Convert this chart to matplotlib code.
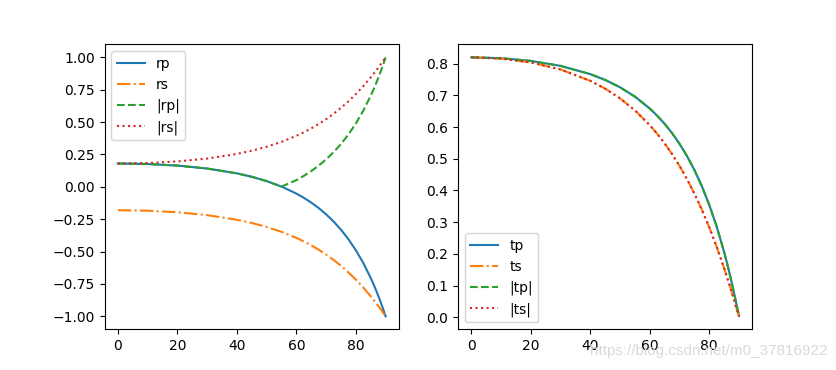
import numpy as np
import matplotlib
matplotlib.use("Agg")
import matplotlib.pyplot as plt

# Ángulo de incidencia (grados) y coeficientes
angulo = [0, 10, 20, 30, 40, 45, 50, 55, 60, 62.5, 65, 67.5, 70, 72.5, 75, 77.5,
          80, 82.5, 85, 86, 87, 88, 89, 90]

rp = [0.1803, 0.1765, 0.1642, 0.1416, 0.1042, 0.0779, 0.0445, 0.0021, -0.0520,
      -0.0846, -0.1216, -0.1639, -0.2121, -0.2675, -0.3311, -0.4045,
      -0.4895, -0.5884, -0.7039, -0.7555, -0.8106, -0.8695, -0.9325, -1.0]
rs = [-0.1803, -0.1842, -0.1963, -0.2185, -0.2543, -0.2790, -0.3096, -0.3474, -0.3941,
      -0.4214, -0.4517, -0.4854, -0.5227, -0.5641, -0.6099, -0.6605,
      -0.7163, -0.7778, -0.8453, -0.8741, -0.9040, -0.9349, -0.9669, -1.0]
tp = [0.8197, 0.8170, 0.8085, 0.7928, 0.7668, 0.7485, 0.7253, 0.6959, 0.6584,
      0.6357, 0.6100, 0.5807, 0.5471, 0.5087, 0.4645, 0.4136,
      0.3545, 0.2859, 0.2057, 0.1698, 0.1315, 0.0906, 0.0469, 0.004]
ts = [0.8197, 0.8158, 0.8037, 0.7815, 0.7457, 0.7210, 0.6904, 0.6526, 0.6059,
      0.5786, 0.5483, 0.5146, 0.4773, 0.4359, 0.3901, 0.3395,
      0.2837, 0.2222, 0.1547, 0.1259, 0.0961, 0.0651, 0.0331, 0.003]

fig, (ax1, ax2) = plt.subplots(1, 2, figsize=(8.36, 3.7), dpi=100)

# Reflexión
ax1.plot(angulo, rp, "-", label="rp")
ax1.plot(angulo, rs, "-.", label="rs")
ax1.plot(angulo, np.abs(rp), "--", label="|rp|")
ax1.plot(angulo, np.abs(rs), ":", label="|rs|")
ax1.legend(loc="upper left")

# Transmisión
ax2.plot(angulo, tp, "-", label="tp")
ax2.plot(angulo, ts, "-.", label="ts")
ax2.plot(angulo, np.abs(tp), "--", label="|tp|")
ax2.plot(angulo, np.abs(ts), ":", label="|ts|")
ax2.set_yticks(np.arange(0, 0.81, 0.1))
ax2.legend(loc="lower left")

# Marca de agua del original
fig.text(0.99, 0.04, "https://blog.csdn.net/m0_37816922", ha="right",
         fontsize=11, color="#d9d9d9", family="Liberation Sans")

plt.savefig("out.png", dpi=100)
